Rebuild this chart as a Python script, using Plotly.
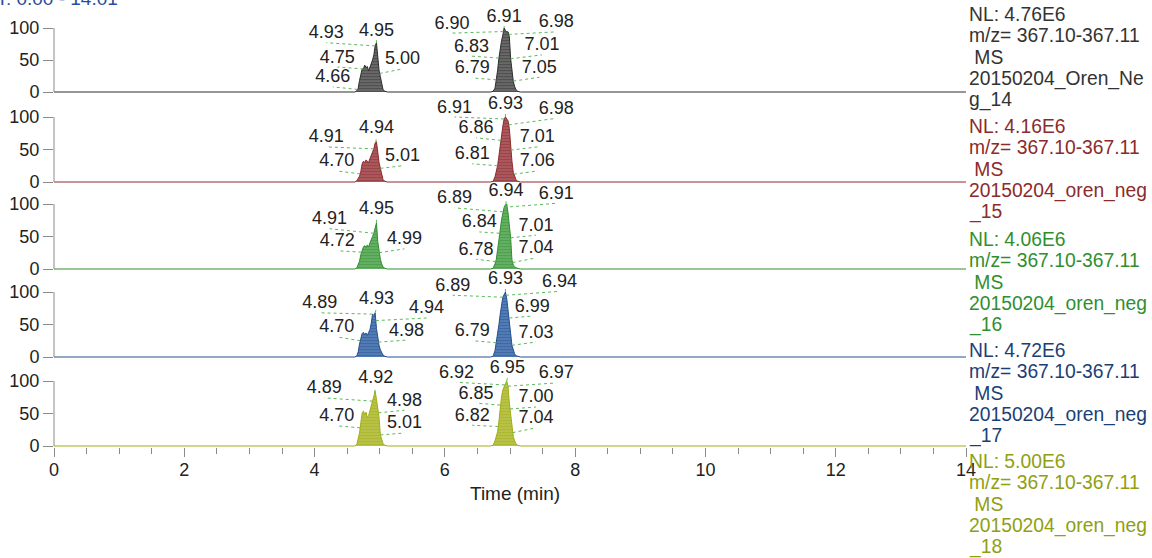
import numpy as np
import plotly.graph_objects as go

W, H = 1152, 558
FONT = "Liberation Sans, Arial, sans-serif"

# ---------------------------------------------------------------- data
# retention-time grids of the two elution windows (min)
T_A = [4.58, 4.62, 4.65, 4.67, 4.69, 4.71, 4.73, 4.75, 4.77, 4.79, 4.81, 4.83, 4.85,
       4.87, 4.89, 4.91, 4.93, 4.95, 4.97, 4.99, 5.01, 5.03, 5.05, 5.08, 5.12]
T_B = [6.70, 6.74, 6.77, 6.79, 6.81, 6.83, 6.85, 6.87, 6.89, 6.91, 6.93, 6.95, 6.97,
       6.99, 7.01, 7.03, 7.05, 7.07, 7.09, 7.12, 7.16]
RUN_START, RUN_END = 0.0, 14.01

# relative abundance (%) per raw file, first and second window
NEG14_A = [0, 0, 2, 6, 18, 30, 36, 36, 42, 38, 40, 33, 38, 44, 50, 58, 72, 77, 52, 34, 24, 12, 4, 1, 0]
NEG14_B = [0, 1, 6, 19, 34, 53, 68, 80, 89, 100, 96, 94, 94, 86, 52, 33, 17, 9, 4, 1, 0]
NEG15_A = [0, 0, 2, 5, 9, 16, 28, 32, 30, 34, 31, 30, 36, 40, 46, 51, 60, 62, 42, 30, 21, 11, 4, 1, 0]
NEG15_B = [0, 1, 8, 15, 25, 40, 58, 70, 86, 97, 100, 97, 94, 82, 49, 32, 15, 9, 4, 1, 0]
NEG16_A = [0, 0, 2, 6, 12, 22, 30, 34, 36, 33, 37, 34, 40, 44, 50, 55, 64, 71, 42, 25, 15, 8, 3, 1, 0]
NEG16_B = [0, 1, 8, 15, 30, 50, 60, 76, 88, 95, 99, 100, 86, 66, 48, 14, 6, 4, 2, 1, 0]
NEG17_A = [0, 0, 2, 8, 20, 30, 36, 38, 34, 37, 33, 38, 42, 52, 66, 64, 68, 44, 28, 18, 11, 6, 3, 1, 0]
NEG17_B = [0, 1, 10, 22, 34, 50, 66, 80, 92, 96, 100, 90, 74, 60, 36, 18, 10, 5, 2, 1, 0]
NEG18_A = [0, 0, 3, 10, 20, 36, 50, 54, 48, 52, 44, 47, 55, 62, 69, 80, 84, 72, 58, 44, 17, 8, 4, 1, 0]
NEG18_B = [0, 1, 8, 15, 22, 38, 63, 76, 86, 92, 96, 100, 92, 66, 48, 26, 15, 8, 4, 1, 0]

# labelled retention times (min)
NEG14_RT = [4.66, 4.75, 4.93, 4.95, 5.00, 6.79, 6.83, 6.90, 6.91, 6.98, 7.01, 7.05]
NEG15_RT = [4.70, 4.91, 4.94, 5.01, 6.81, 6.86, 6.91, 6.93, 6.98, 7.01, 7.06]
NEG16_RT = [4.72, 4.91, 4.95, 4.99, 6.78, 6.84, 6.89, 6.91, 6.94, 7.01, 7.04]
NEG17_RT = [4.70, 4.89, 4.93, 4.94, 4.98, 6.79, 6.89, 6.93, 6.94, 6.99, 7.03]
NEG18_RT = [4.70, 4.89, 4.92, 4.98, 5.01, 6.82, 6.85, 6.92, 6.95, 6.97, 7.00, 7.04]

# header / trace info
RANGE_TEXT = "RT: 0.00 - 14.01"
NL = ["4.76E6", "4.16E6", "4.06E6", "4.72E6", "5.00E6"]
FILE_LINES = [("20150204_Oren_Ne", "g_14"),
              ("20150204_oren_neg", "_15"),
              ("20150204_oren_neg", "_16"),
              ("20150204_oren_neg", "_17"),
              ("20150204_oren_neg", "_18")]
MZ_FILTER = "m/z= 367.10-367.11"
SCAN_TYPE = "MS"
Y_TICKS = [0, 50, 100]
X_TITLE = "Time (min)"

# ---------------------------------------------------------------- layout
# label anchor (time, %) for every labelled peak, same order as the RT lists
LABEL_POS = [
    [(4.28, 8), (4.35, 39), (4.18, 77), (4.95, 81), (5.35, 36), (6.42, 22), (6.41, 56),
     (6.11, 92), (6.91, 103), (7.71, 94), (7.49, 58), (7.45, 23)],
    [(4.34, 17), (4.18, 54), (4.95, 68), (5.35, 25), (6.42, 28), (6.48, 68), (6.15, 100),
     (6.93, 105), (7.71, 98), (7.42, 54), (7.42, 17)],
    [(4.35, 28), (4.23, 62), (4.95, 78), (5.38, 31), (6.48, 15), (6.53, 57), (6.15, 94),
     (7.71, 101), (6.94, 105), (7.40, 52), (7.40, 17)],
    [(4.34, 31), (4.08, 68), (4.95, 75), (5.72, 60), (5.41, 26), (6.42, 25), (6.12, 95),
     (6.93, 105), (7.76, 101), (7.34, 63), (7.40, 23)],
    [(4.34, 31), (4.15, 74), (4.94, 90), (5.38, 55), (5.38, 20), (6.42, 32), (6.48, 66),
     (6.18, 98), (6.96, 105), (7.71, 97), (7.40, 60), (7.40, 28)],
]
# pixel rows of the 0 % and 100 % levels of each panel
PANEL_ROWS = [(92, 28), (182, 117), (269, 204), (357, 292), (446, 381)]
Y_RANGE = (-2, 106)
X_PIX = (54, 966)
INFO_TOP = [14, 126, 239, 350, 461]
INFO_STEP = 21.6
INFO_X = 968

LINE_COLORS = ["#2e2e2e", "#8e2a2e", "#2f8f2f", "#24508f", "#a0ad14"]
FILL_BG = ["rgba(70,70,70,0.8)", "rgba(150,50,55,0.8)", "rgba(60,155,60,0.78)",
           "rgba(45,95,165,0.8)", "rgba(170,180,30,0.8)"]
TEXT_COLORS = ["#333333", "#8b2b2b", "#2f8f2f", "#1b3f75", "#8fa012"]
LEADER_COLOR = "#5cb85c"
AXIS_GREY = "#8a8a8a"

series_a = [NEG14_A, NEG15_A, NEG16_A, NEG17_A, NEG18_A]
series_b = [NEG14_B, NEG15_B, NEG16_B, NEG17_B, NEG18_B]
label_rts = [NEG14_RT, NEG15_RT, NEG16_RT, NEG17_RT, NEG18_RT]


def ydomain(p0, p100, lo, hi):
    ppu = (p0 - p100) / 100.0
    bottom = p0 - lo * ppu
    top = p100 - (hi - 100) * ppu
    return [1 - bottom / H, 1 - top / H]


fig = go.Figure()
layout_axes = {}
shapes = []
annotations = []

for i in range(5):
    n = "" if i == 0 else str(i + 1)
    xa, ya = "x" + n, "y" + n
    t = [RUN_START] + T_A + T_B + [RUN_END]
    v = [0] + series_a[i] + series_b[i] + [0]

    # chromatogram
    fig.add_trace(go.Scatter(
        x=t, y=v, mode="lines", xaxis=xa, yaxis=ya,
        line=dict(color=LINE_COLORS[i], width=1),
        fill="tozeroy", fillcolor=FILL_BG[i],
        fillpattern=dict(shape="-", size=3, solidity=0.4,
                         fgcolor=LINE_COLORS[i], bgcolor=FILL_BG[i]),
        hoverinfo="skip", showlegend=False))

    # leader lines from each labelled point to its label
    lx, ly = [], []
    for rt, (px, py) in zip(label_rts[i], LABEL_POS[i]):
        h = float(np.interp(rt, t, v))
        lx += [rt, px, None]
        ly += [h, py, None]
    fig.add_trace(go.Scatter(
        x=lx, y=ly, mode="lines", xaxis=xa, yaxis=ya,
        line=dict(color=LEADER_COLOR, width=1, dash="dot"),
        hoverinfo="skip", showlegend=False))

    # retention-time labels
    fig.add_trace(go.Scatter(
        x=[p[0] for p in LABEL_POS[i]], y=[p[1] for p in LABEL_POS[i]],
        text=[f"{rt:.2f}" for rt in label_rts[i]],
        mode="text", textposition="top center", cliponaxis=False,
        textfont=dict(family=FONT, size=18, color="#222222"),
        xaxis=xa, yaxis=ya, hoverinfo="skip", showlegend=False))

    bottom = i == 4
    layout_axes["xaxis" + n] = dict(
        domain=[X_PIX[0] / W, X_PIX[1] / W], range=[0, 14], anchor=ya,
        automargin=False,
        showgrid=False, zeroline=False, showline=False,
        showticklabels=bottom, ticks="outside" if bottom else "",
        dtick=2, tick0=0, ticklen=9, tickcolor=AXIS_GREY, tickwidth=1,
        ticklabelstandoff=-3,
        tickfont=dict(family=FONT, size=18, color="#222222"),
        minor=dict(dtick=0.5, tick0=0, ticks="outside", ticklen=6,
                   tickcolor=AXIS_GREY, tickwidth=1) if bottom else None,
    )
    p0, p100 = PANEL_ROWS[i]
    layout_axes["yaxis" + n] = dict(
        domain=ydomain(p0, p100, *Y_RANGE), range=list(Y_RANGE), anchor=xa,
        automargin=False,
        showgrid=False, zeroline=False, showline=False,
        tickvals=Y_TICKS, ticks="outside", ticklen=10, tickcolor=AXIS_GREY,
        tickfont=dict(family=FONT, size=18, color="#222222"),
    )
    shapes.append(dict(type="line", xref=xa + " domain", yref=ya,
                       x0=0, x1=0, y0=0, y1=100,
                       line=dict(color=AXIS_GREY, width=1)))

    # normalisation level, filter and file name block
    lines = ["NL: " + NL[i], MZ_FILTER, "\u00a0" + SCAN_TYPE,
             FILE_LINES[i][0], FILE_LINES[i][1]]
    for k, txt in enumerate(lines):
        yc = INFO_TOP[i] + k * INFO_STEP
        annotations.append(dict(
            x=INFO_X / W, y=1 - yc / H, xref="paper", yref="paper",
            xanchor="left", yanchor="middle", text=txt, showarrow=False,
            borderpad=0,
            font=dict(family=FONT, size=19.3, color=TEXT_COLORS[i])))

annotations.append(dict(
    x=(X_PIX[0] + X_PIX[1]) / 2 / W + 0.004, y=1 - 493 / H, xref="paper", yref="paper",
    xanchor="center", yanchor="middle", text=X_TITLE, showarrow=False,
    font=dict(family=FONT, size=19, color="#222222")))
annotations.append(dict(
    x=-18 / W, y=1, xref="paper", yref="paper", xanchor="left", yanchor="bottom",
    yshift=-10, text=RANGE_TEXT, showarrow=False, borderpad=0,
    font=dict(family=FONT, size=19, color="#2a4d9b")))

fig.update_layout(
    width=W, height=H, margin=dict(l=0, r=0, t=0, b=0, autoexpand=False),
    paper_bgcolor="white", plot_bgcolor="white",
    font=dict(family=FONT, size=18, color="#222222"),
    shapes=shapes, annotations=annotations, showlegend=False,
    **layout_axes,
)

fig.write_html("out.html")
